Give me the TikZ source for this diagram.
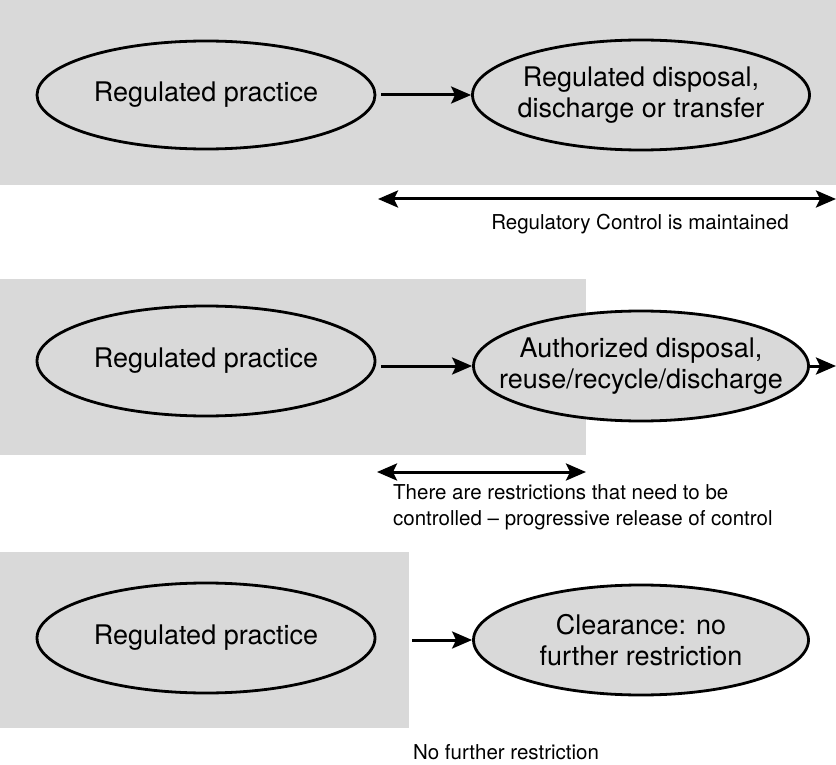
\documentclass[tikz,border=0pt]{standalone}
\usepackage{fontspec}
\setmainfont{TeX Gyre Heros}
\usetikzlibrary{shapes.geometric,arrows.meta}
\definecolor{bggray}{gray}{0.85}
\tikzset{
  oval/.style={ellipse, draw=black, line width=2.8pt, fill=bggray, inner sep=0pt,
    minimum width=338pt, minimum height=108pt},
  otext/.style={align=center, inner sep=0pt, font=\fontsize{27}{31}\selectfont},
  tip/.tip={Stealth[length=20pt,width=17pt,inset=4pt]},
  flow/.style={line width=3pt, -tip},
  span/.style={line width=3pt, tip-tip},
  lbl/.style={font=\fontsize{20.5}{26}\selectfont, inner sep=0pt}
}
\begin{document}
\begin{tikzpicture}[x=1pt,y=-1pt]
\useasboundingbox (0,0) rectangle (836,765);
% backgrounds
\fill[bggray] (0,0) rectangle (836,185);
\fill[bggray] (0,279) rectangle (586,455);
\fill[bggray] (0,552) rectangle (409,728);
% row 1
\node[oval] (a1) at (206,95) {};
\node[otext] (a1t) at (a1) {Regulated practice};
\node[oval, minimum width=337pt, minimum height=110pt] (a2) at (641,95) {};
\node[otext] (a2t) at (a2) {Regulated disposal,\\discharge or transfer};
\draw[flow, shorten <=5pt] (a1) -- (a2);
\coordinate (s1l) at (378,199);
\coordinate (s1r) at (836,199);
\draw[span] (s1l) -- (s1r);
\node[lbl] (t1) at (640,224) {Regulatory Control is maintained};
% row 2
\node[oval, minimum height=110pt] (b1) at (206,361) {};
\node[otext] (b1t) at (b1) {Regulated practice};
\node[oval, minimum width=335pt, minimum height=110pt] (b2) at (641,366) {};
\node[otext] (b2t) at (b2) {Authorized disposal,\\reuse/recycle/discharge};
\draw[flow, shorten <=5pt] (b1.east |- b2) -- (b2);
\coordinate (bout) at (836,366);
\draw[flow] (b2) -- (bout);
\coordinate (s2l) at (377,472);
\coordinate (s2r) at (586,472);
\draw[span] (s2l) -- (s2r);
\node[lbl, anchor=north west, align=left] (t2) at (393,484) {There are restrictions that need to be\\controlled -- progressive release of control};
% row 3
\node[oval, minimum height=110pt] (c1) at (206,638) {};
\node[otext] (c1t) at (c1) {Regulated practice};
\node[oval, minimum width=335pt, minimum height=110pt] (c2) at (641,640) {};
\node[otext] (c2t) at (c2) {Clearance: no\\further restriction};
\draw[flow, shorten <=36pt] (c1.east |- c2) -- (c2);
\node[lbl] (t3) at (506,752) {No further restriction};
\end{tikzpicture}
\end{document}
